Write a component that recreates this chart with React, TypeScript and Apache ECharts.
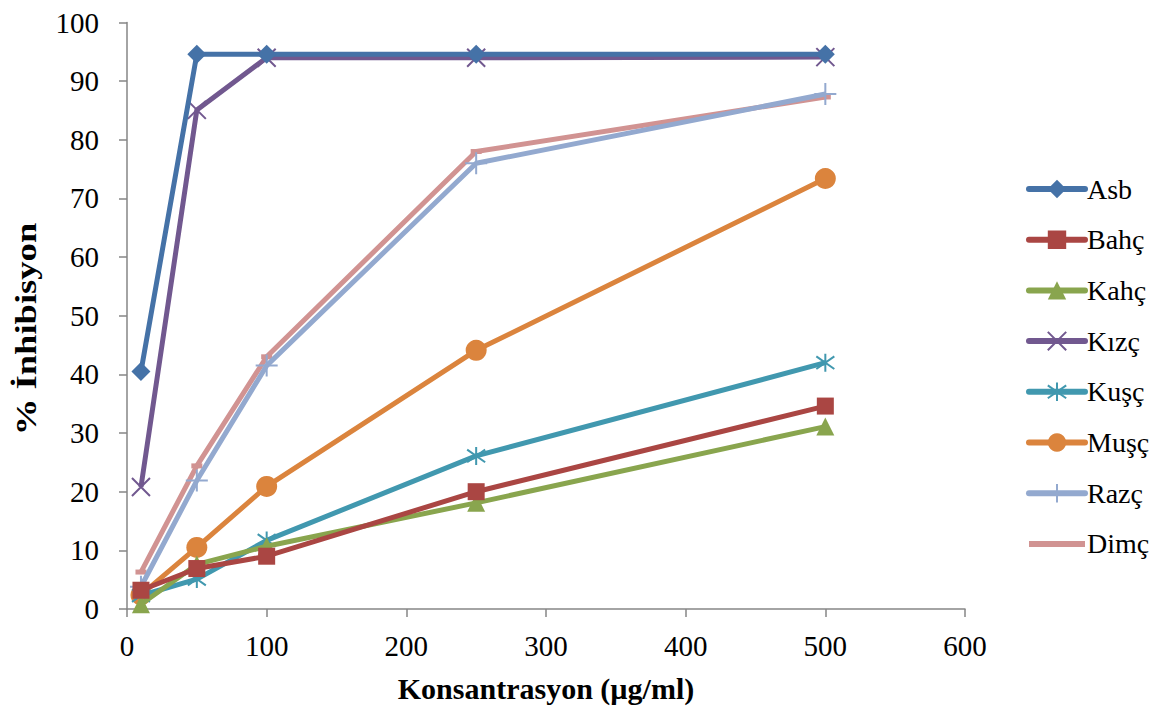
import React, { useEffect, useRef } from "react";
import * as echarts from "echarts";

const xValues = [10, 50, 100, 250, 500];
const seriesNames = ["Asb", "Bahç", "Kahç", "Kızç", "Kuşç", "Muşç", "Razç", "Dimç"];
const asb = [40.5, 94.6, 94.6, 94.6, 94.6];
const bahc = [3.2, 6.9, 9.0, 20.0, 34.6];
const kahc = [0.8, 7.6, 10.7, 18.1, 31.1];
const kizc = [20.8, 85.1, 94.0, 94.0, 94.1];
const kusc = [2.3, 5.1, 11.7, 26.1, 42.0];
const musc = [2.4, 10.5, 20.9, 44.1, 73.4];
const razc = [3.8, 21.9, 41.5, 76.0, 87.8];
const dimc = [6.3, 24.4, 43.0, 78.0, 87.3];
const xTicks = [0, 100, 200, 300, 400, 500, 600];
const yTicks = [0, 10, 20, 30, 40, 50, 60, 70, 80, 90, 100];
const xTitle = "Konsantrasyon (µg/ml)";
const yTitle = "% İnhibisyon";

const colors = ["#4572A7", "#AA4643", "#89A54E", "#71588F", "#4198AF", "#DB843D", "#93A9CF", "#D19392"];
const allValues = [asb, bahc, kahc, kizc, kusc, musc, razc, dimc];

const symbols = [
  "diamond",
  "rect",
  "triangle",
  "path://M0,0L10,10M10,0L0,10",
  "path://M5,0L5,10M1.5,1.5L8.5,8.5M8.5,1.5L1.5,8.5",
  "circle",
  "path://M5,0L5,10M0,5L10,5",
  "path://M0,0L10,0L10,4L0,4Z",
];
const symbolSizes: any[] = [19, 17, 18, 18, 18, 21, 22, [11, 5]];
const strokeOnly = [false, false, false, true, true, false, true, false];

export default function App() {
  const ref = useRef<HTMLDivElement>(null);
  useEffect(() => {
    if (!ref.current) return;
    const chart = echarts.init(ref.current, null, { renderer: "svg" });
    const font = "Liberation Serif";
    chart.setOption({
      animation: false,
      textStyle: { fontFamily: font },
      grid: { left: 119, right: 198, top: 10, bottom: 98 },
      graphic: [
        {
          type: "text",
          x: 18,
          y: 321,
          rotation: Math.PI / 2,
          scaleX: 1.22,
          style: {
            text: yTitle,
            align: "center",
            verticalAlign: "middle",
            fontFamily: font,
            fontSize: 30,
            fontWeight: "bold",
            fill: "#000",
          },
        },
      ],
      legend: {
        orient: "vertical",
        left: 1013,
        top: 162,
        itemWidth: 56,
        itemHeight: 23,
        itemGap: 22.7,
        lineStyle: { width: 6, cap: "round" },
        textStyle: { fontFamily: font, fontSize: 28, lineHeight: 28, color: "#000", padding: [0, 0, 0, -3] },
        data: seriesNames.map((n) =>
          n === "Dimç" ? { name: n, icon: "path://M0,0L56,0L56,6L0,6Z" } : { name: n }
        ),
      },
      xAxis: {
        type: "value",
        min: 0,
        max: 600,
        interval: 100,
        name: xTitle,
        nameLocation: "middle",
        nameGap: 64,
        nameTextStyle: { fontFamily: font, fontSize: 30, fontWeight: "bold", color: "#000" },
        axisLine: { show: true, lineStyle: { color: "#868686", width: 1.5 } },
        axisTick: { show: true, length: 8, lineStyle: { color: "#868686", width: 1.5 } },
        axisLabel: {
          fontFamily: font,
          fontSize: 29,
          color: "#000",
          margin: 22,
          formatter: (v: number) => (xTicks.includes(v) ? String(v) : ""),
        },
        splitLine: { show: false },
      },
      yAxis: {
        type: "value",
        min: 0,
        max: 100,
        interval: 10,
        axisLine: { show: true, lineStyle: { color: "#868686", width: 1.5 } },
        axisTick: { show: true, length: 8, lineStyle: { color: "#868686", width: 1.5 } },
        axisLabel: {
          fontFamily: font,
          fontSize: 29,
          color: "#000",
          margin: 28,
          formatter: (v: number) => (yTicks.includes(v) ? String(v) : ""),
        },
        splitLine: { show: false },
      },
      series: seriesNames.map((name, i) => ({
        name,
        type: "line",
        data: xValues.map((x, j) => [x, allValues[i][j]]),
        symbol: symbols[i],
        symbolSize: symbolSizes[i],
        showAllSymbol: true,
        lineStyle: { color: colors[i], width: 5 },
        itemStyle: strokeOnly[i]
          ? { color: "rgba(0,0,0,0)", borderColor: colors[i], borderWidth: 2 }
          : { color: colors[i], borderWidth: 0 },
        z: 10 - i,
      })),
    });
    return () => chart.dispose();
  }, []);
  return <div ref={ref} style={{ width: 1155, height: 700 }} />;
}
